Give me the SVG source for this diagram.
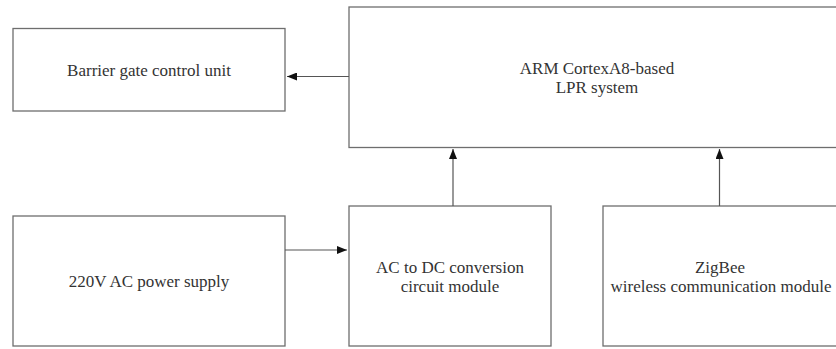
<svg xmlns="http://www.w3.org/2000/svg" width="836" height="349" viewBox="0 0 836 349">
<style>
.box{fill:#fff;stroke:#6e6e6e;stroke-width:1.3}
.lbl{font-family:"Liberation Serif","Times New Roman",serif;font-size:17px;fill:#333;text-anchor:middle}
.con{stroke:#555;stroke-width:1.2;fill:none}
</style>
<defs>
<marker id="ah" viewBox="0 0 10 8" refX="10" refY="4" markerWidth="10" markerHeight="8" markerUnits="userSpaceOnUse" orient="auto">
<path d="M0,0 L10,4 L0,8 Z" fill="#111"/>
</marker>
</defs>
<rect width="836" height="349" fill="#fff"/>
<g id="barrier"><rect class="box" x="13" y="28.5" width="272" height="82.5"/><text class="lbl" x="149" y="76">Barrier gate control unit</text></g>
<g id="arm"><rect class="box" x="349" y="7" width="496" height="140.5"/><text class="lbl" x="597" y="74">ARM CortexA8-based</text><text class="lbl" x="597" y="93">LPR system</text></g>
<g id="power"><rect class="box" x="13" y="216" width="272" height="130"/><text class="lbl" x="149" y="287">220V AC power supply</text></g>
<g id="acdc"><rect class="box" x="349" y="206" width="202" height="140"/><text class="lbl" x="450" y="273">AC to DC conversion</text><text class="lbl" x="450" y="292">circuit module</text></g>
<g id="zigbee"><rect class="box" x="603" y="206" width="236" height="140"/><text class="lbl" x="720" y="273">ZigBee</text><text class="lbl" x="721" y="292">wireless communication module</text></g>
<g id="connectors">
<line class="con" x1="349" y1="76.5" x2="287" y2="76.5" marker-end="url(#ah)"/>
<line class="con" x1="285" y1="250" x2="347" y2="250" marker-end="url(#ah)"/>
<line class="con" x1="453" y1="206" x2="453" y2="149" marker-end="url(#ah)"/>
<line class="con" x1="719.5" y1="206" x2="719.5" y2="149" marker-end="url(#ah)"/>
</g>
</svg>
